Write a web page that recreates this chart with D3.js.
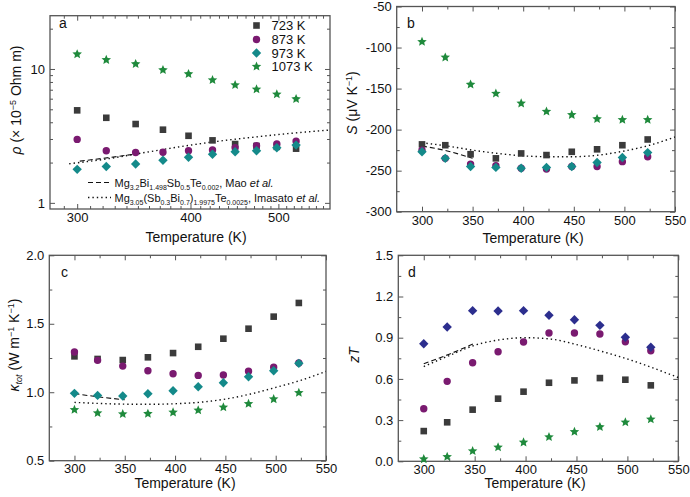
<!DOCTYPE html>
<html><head><meta charset="utf-8">
<script src="https://cdn.jsdelivr.net/npm/d3@7"></script>
<style>body{margin:0;background:#fff}</style>
</head><body><svg id="c" width="690" height="497"></svg>
<script>
// ---------- data ----------
const temps = [300,323,348,373,398,423,448,473,498,523];
const seriesNames = ["723 K","873 K","973 K","1073 K"];

const rho723  = [4.91,4.32,3.88,3.52,3.17,2.93,2.75,2.66,2.62,2.54];
const rho873  = [2.98,2.45,2.38,2.39,2.45,2.48,2.58,2.67,2.75,2.89];
const rho973  = [1.78,1.87,1.95,2.08,2.19,2.31,2.41,2.45,2.58,2.70];
const rho1073 = [12.9,11.7,10.9,9.83,9.18,8.27,7.59,7.05,6.47,5.97];

const S723  = [-218,-219,-230,-235,-229,-231,-227,-224,-219,-212];
const S873  = [-225,-235,-242,-244,-247,-248,-245,-245,-239,-233];
const S973  = [-227,-235,-245,-246,-247,-246,-245,-240,-234,-228];
const S1073 = [-93,-112,-145,-156,-168,-178,-182,-187,-188,-188];

const k723  = [1.262,1.243,1.235,1.255,1.286,1.332,1.391,1.464,1.552,1.652];
const k873  = [1.294,1.233,1.191,1.157,1.135,1.123,1.126,1.153,1.182,1.213];
const k973  = [0.992,0.977,0.972,0.989,1.011,1.040,1.069,1.113,1.157,1.211];
const k1073 = [0.872,0.848,0.841,0.843,0.853,0.868,0.890,0.916,0.950,0.996];

const zT723  = [0.220,0.284,0.376,0.456,0.507,0.572,0.589,0.606,0.594,0.553];
const zT873  = [0.383,0.582,0.718,0.798,0.869,0.934,0.934,0.927,0.871,0.805];
const zT973  = [0.856,0.978,1.097,1.094,1.097,1.063,1.031,0.990,0.903,0.830];
const zT1073 = [0.016,0.033,0.075,0.102,0.138,0.177,0.215,0.250,0.284,0.306];

// reference curves (Mao et al. dashed, Imasato et al. dotted)
const maoT = [300,325,350];
const maoRhoT = [302,327,352];
const maoRho = [2.05,2.19,2.34];
const maoS = [-220,-226,-235];
const maoK = [0.99,0.965,0.945];
const maoZT = [0.71,0.78,0.86];

const imRhoT = [294,325,350,375,400,425,450,475,500,535,570];
const imRho  = [1.96,2.14,2.33,2.52,2.70,2.86,3.00,3.12,3.24,3.38,3.50];
const imT  = [300,325,350,375,400,425,450,475,500,525,550];
const imS  = [-216,-220,-225,-229,-232,-233,-233,-231,-226,-219,-209];
const imK  = [0.926,0.918,0.913,0.912,0.916,0.927,0.950,0.987,1.035,1.087,1.153];
const imZT = [0.69,0.77,0.845,0.885,0.90,0.89,0.85,0.80,0.745,0.68,0.61];

// ticks
const xTicksLin = [300,350,400,450,500,550];
const xMinorLin = [325,375,425,475,525];
const xTicksLog = [300,400,500];
const xMinorLog = [290,310,320,330,340,350,360,370,380,390,410,420,430,440,450,460,470,480,490,510,520,530,540,550,560];
const yTicksA = [1,10];
const yMinorA = [2,3,4,5,6,7,8,9,20];
const yTicksB = [-300,-250,-200,-150,-100,-50];
const yMinorB = [-275,-225,-175,-125,-75];
const yTicksC = [0.5,1.0,1.5,2.0];
const yMinorC = [0.75,1.25,1.75];
const yTicksD = [0.0,0.3,0.6,0.9,1.2,1.5];
const yMinorD = [0.15,0.45,0.75,1.05,1.35];

// ---------- style ----------
const FONT = '"Liberation Sans", Arial, Helvetica, sans-serif';
const colors = {sq:"#3b3b3b", ci:"#7a1a70", di:"#148a8a", st:"#1f8a3c", diD:"#2c2e8e"};
const AX = "#555";
const svg = d3.select("#c");

function starPath(r){ const ri=r*0.46; let d=""; for(let i=0;i<10;i++){const rr=i%2?ri:r; const a=-Math.PI/2+i*Math.PI/5; d+=(i?"L":"M")+(rr*Math.cos(a)).toFixed(2)+","+(rr*Math.sin(a)).toFixed(2);} return d+"Z"; }
const shapes = {
  sq: "M-3.3,-3.3h6.6v6.6h-6.6Z",
  ci: "M3.7,0A3.7,3.7 0 1,1 -3.7,0A3.7,3.7 0 1,1 3.7,0Z",
  di: "M0,-4.7L4.7,0L0,4.7L-4.7,0Z",
  st: starPath(5)
};

function panel(p){
  const g = svg.append("g");
  const x = p.x.range([p.left, p.right]);
  const y = p.y.range([p.bottom, p.top]);
  const add = (gen, tr) => {
    const a = g.append("g").attr("transform", tr).call(gen);
    a.select(".domain").remove();
    a.selectAll("line").attr("stroke", AX).attr("stroke-width", 1);
    a.selectAll("text").attr("font-family", FONT).attr("font-size", 13).attr("fill", "#111");
    return a;
  };
  add(d3.axisBottom(x).tickValues(p.xt).tickFormat(p.xf).tickSize(-5).tickPadding(p.xpad), `translate(0,${p.bottom})`);
  add(d3.axisBottom(x).tickValues(p.xm).tickFormat("").tickSize(-3), `translate(0,${p.bottom})`);
  add(d3.axisTop(x).tickValues(p.xt).tickFormat("").tickSize(-5), `translate(0,${p.top})`);
  add(d3.axisTop(x).tickValues(p.xm).tickFormat("").tickSize(-3), `translate(0,${p.top})`);
  add(d3.axisLeft(y).tickValues(p.yt).tickFormat(p.yf).tickSize(-5).tickPadding(5), `translate(${p.left},0)`);
  add(d3.axisLeft(y).tickValues(p.ym).tickFormat("").tickSize(-3), `translate(${p.left},0)`);
  add(d3.axisRight(y).tickValues(p.yt).tickFormat("").tickSize(-5), `translate(${p.right},0)`);
  add(d3.axisRight(y).tickValues(p.ym).tickFormat("").tickSize(-3), `translate(${p.right},0)`);
  g.append("rect").attr("x", p.left).attr("y", p.top).attr("width", p.right-p.left).attr("height", p.bottom-p.top)
    .attr("fill","none").attr("stroke", AX).attr("stroke-width", 1.3);

  const clipId = "clip"+p.id;
  g.append("clipPath").attr("id", clipId).append("rect").attr("x", p.left).attr("y", p.top).attr("width", p.right-p.left).attr("height", p.bottom-p.top);
  const line = d3.line().x(d=>x(d[0])).y(d=>y(d[1])).curve(d3.curveMonotoneX);
  p.lines.forEach(l => {
    g.append("path").attr("clip-path",`url(#${clipId})`).attr("d", line(d3.zip(l.t, l.v)))
      .attr("fill","none").attr("stroke","#111").attr("stroke-width", l.dash==="dash"?1.1:1.4)
      .attr("stroke-dasharray", l.dash==="dash" ? "5,3" : "1.4,3");
  });
  p.series.forEach(s => {
    g.append("g").selectAll("path").data(d3.zip(temps, s.v)).join("path")
      .attr("transform", d=>`translate(${x(d[0])},${y(d[1])})`)
      .attr("d", shapes[s.shape]).attr("fill", s.color);
  });
  g.append("text").attr("x", p.letter[0]).attr("y", p.letter[1]).text(p.id)
    .attr("font-family", FONT).attr("font-size", 14).attr("fill","#111");
  g.append("text").attr("x", p.xlab[0]).attr("y", p.xlab[1]).attr("text-anchor","middle")
    .attr("font-family", FONT).attr("font-size", 14).attr("fill","#111").text("Temperature (K)");
  const yl = g.append("text").attr("transform", `translate(${p.ylab[0]},${p.ylab[1]}) rotate(-90)`)
    .attr("text-anchor","middle").attr("font-family", FONT).attr("font-size", 14).attr("fill","#111");
  p.ylabFn(yl);
  return {g, x, y};
}

function sup(t, s){ t.append("tspan").attr("font-size",9).attr("dy",-5).text(s); }
function after(t, s){ t.append("tspan").attr("dy",5).text(s); }

const fmtInt = d => String(d);
const fmt1 = d3.format(".1f");

panel({id:"a", left:50, right:330, top:15.7, bottom:209,
  x:d3.scaleLog().domain([280,570]), y:d3.scaleLog().domain([0.9,25]),
  xt:xTicksLog, xm:xMinorLog, xf:fmtInt, yt:yTicksA, ym:yMinorA, yf:fmtInt, xpad:4,
  series:[{v:rho723,shape:"sq",color:colors.sq},{v:rho873,shape:"ci",color:colors.ci},{v:rho973,shape:"di",color:colors.di},{v:rho1073,shape:"st",color:colors.st}],
  lines:[{t:maoRhoT,v:maoRho,dash:"dash"},{t:imRhoT,v:imRho,dash:"dot"}],
  letter:[59,28], xlab:[196,242], ylab:[21,100],
  ylabFn:t=>{ t.append("tspan").attr("font-style","italic").text("ρ"); t.append("tspan").text(" (× 10"); sup(t,"−5"); after(t," Ohm m)"); }
});
panel({id:"b", left:396.7, right:675, top:6.5, bottom:211.7,
  x:d3.scaleLinear().domain([275,550]), y:d3.scaleLinear().domain([-300,-50]),
  xt:xTicksLin, xm:xMinorLin, xf:fmtInt, yt:yTicksB, ym:yMinorB, yf:fmtInt, xpad:4,
  series:[{v:S723,shape:"sq",color:colors.sq},{v:S873,shape:"ci",color:colors.ci},{v:S973,shape:"di",color:colors.di},{v:S1073,shape:"st",color:colors.st}],
  lines:[{t:maoT,v:maoS,dash:"dash"},{t:imT,v:imS,dash:"dot"}],
  letter:[407,28], xlab:[533,243], ylab:[357,103],
  ylabFn:t=>{ t.append("tspan").attr("font-style","italic").text("S"); t.append("tspan").text(" (μV K"); sup(t,"−1"); after(t,")"); }
});
panel({id:"c", left:49.3, right:326, top:255.3, bottom:460.7,
  x:d3.scaleLinear().domain([275,550]), y:d3.scaleLinear().domain([0.5,2.0]),
  xt:xTicksLin, xm:xMinorLin, xf:fmtInt, yt:yTicksC, ym:yMinorC, yf:fmt1, xpad:3,
  series:[{v:k723,shape:"sq",color:colors.sq},{v:k873,shape:"ci",color:colors.ci},{v:k973,shape:"di",color:colors.di},{v:k1073,shape:"st",color:colors.st}],
  lines:[{t:maoT,v:maoK,dash:"dash"},{t:imT,v:imK,dash:"dot"}],
  letter:[61,277], xlab:[185,488], ylab:[19,345],
  ylabFn:t=>{ t.append("tspan").attr("font-style","italic").text("κ"); t.append("tspan").attr("font-style","italic").attr("font-size",9).attr("dy",3).text("tot"); t.append("tspan").attr("dy",-3).text(" (W m"); sup(t,"−1"); after(t," K"); sup(t,"−1"); after(t,")"); }
});
panel({id:"d", left:398.3, right:678.3, top:255.3, bottom:461.3,
  x:d3.scaleLinear().domain([275,550]), y:d3.scaleLinear().domain([0,1.5]),
  xt:xTicksLin, xm:xMinorLin, xf:fmtInt, yt:yTicksD, ym:yMinorD, yf:fmt1, xpad:3,
  series:[{v:zT723,shape:"sq",color:colors.sq},{v:zT873,shape:"ci",color:colors.ci},{v:zT973,shape:"di",color:colors.diD},{v:zT1073,shape:"st",color:colors.st}],
  lines:[{t:maoT,v:maoZT,dash:"dash"},{t:imT,v:imZT,dash:"dot"}],
  letter:[408,277], xlab:[535,488], ylab:[359,355],
  ylabFn:t=>{ t.append("tspan").attr("font-style","italic").text("zT"); }
});

// ---------- legends (panel a) ----------
const leg = svg.append("g");
const legShapes = ["sq","ci","di","st"];
const legColors = [colors.sq, colors.ci, colors.di, colors.st];
const legY = [25.5, 39.5, 53, 66.5];
seriesNames.forEach((n,i)=>{
  leg.append("path").attr("transform",`translate(256.5,${legY[i]})`).attr("d", shapes[legShapes[i]]).attr("fill", legColors[i]);
  leg.append("text").attr("x",271.5).attr("y",legY[i]+4.7).attr("font-family",FONT).attr("font-size",13).attr("fill","#111").text(n);
});
function chem(t, parts){
  let shift = 0;
  parts.forEach(([s, sub]) => {
    const ts = t.append("tspan").text(s);
    if(sub){ ts.attr("font-size",7).attr("dy",3-shift); shift = 3; }
    else { if(shift) ts.attr("dy",-shift); shift = 0; }
  });
}
leg.append("line").attr("x1",88).attr("x2",111).attr("y1",182.5).attr("y2",182.5).attr("stroke","#111").attr("stroke-width",1.1).attr("stroke-dasharray","5,3");
const t1 = leg.append("text").attr("x",114.5).attr("y",186.5).attr("font-family",FONT).attr("font-size",11).attr("fill","#111");
chem(t1, [["Mg"],["3.2",1],["Bi"],["1.498",1],["Sb"],["0.5",1],["Te"],["0.002",1],[", Mao "]]);
t1.append("tspan").attr("font-style","italic").text("et al.");
leg.append("line").attr("x1",88).attr("x2",111).attr("y1",197.5).attr("y2",197.5).attr("stroke","#111").attr("stroke-width",1.4).attr("stroke-dasharray","1.4,3");
const t2 = leg.append("text").attr("x",114.5).attr("y",201.5).attr("font-family",FONT).attr("font-size",11).attr("fill","#111");
chem(t2, [["Mg"],["3.05",1],["(Sb"],["0.3",1],["Bi"],["0.7",1],[")"],["1.9975",1],["Te"],["0.0025",1],[", Imasato "]]);
t2.append("tspan").attr("font-style","italic").text("et al.");
</script></body></html>
